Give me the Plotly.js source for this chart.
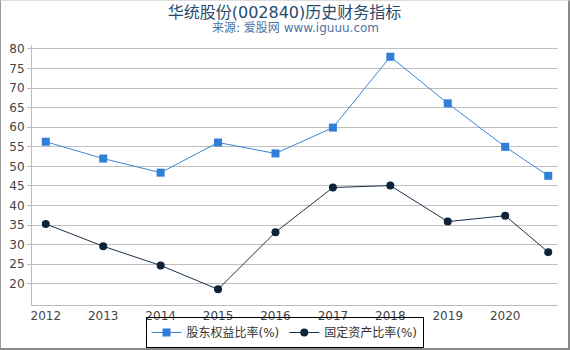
<!DOCTYPE html>
<html><head><meta charset="utf-8">
<script src="https://cdn.plot.ly/plotly-3.0.1.min.js"></script>
<style>
html,body{margin:0;padding:0;background:#fff;}
#chart{width:567px;height:347px;border-left:1px solid #999;border-top:1px solid #ddd;border-right:2px solid #888;border-bottom:2px solid #888;}
</style></head>
<body><div id="chart"></div>
<script>
const years = [2012, 2013, 2014, 2015, 2016, 2017, 2018, 2019, 2020, 2020.75];
const tickYears = [2012, 2013, 2014, 2015, 2016, 2017, 2018, 2019, 2020];
const equityRatio = [56.3, 52.0, 48.4, 56.1, 53.3, 59.9, 78.0, 66.1, 55.0, 47.6];
const fixedAssetRatio = [35.3, 29.6, 24.7, 18.6, 33.2, 44.6, 45.1, 35.9, 37.4, 28.1];
const seriesNames = ['股东权益比率(%)', '固定资产比率(%)'];
const titleText = '华统股份(002840)历史财务指标';
const subtitleText = '来源: 爱股网 www.iguuu.com';

const font = 'DejaVu Sans, "Noto Sans CJK SC", sans-serif';
const traces = [
  {x: years, y: equityRatio, name: seriesNames[0], type: 'scatter', mode: 'lines+markers',
   line: {color: '#3a85d8', width: 1}, marker: {symbol: 'square', size: 8, color: '#2f7ed8'}},
  {x: years, y: fixedAssetRatio, name: seriesNames[1], type: 'scatter', mode: 'lines+markers',
   line: {color: '#1c2f48', width: 1}, marker: {symbol: 'circle', size: 8, color: '#0d233a'}}
];
const layout = {
  width: 567, height: 347,
  margin: {l: 31, r: 10, t: 44, b: 43},
  paper_bgcolor: '#fff', plot_bgcolor: '#fff',
  font: {family: font, size: 12, color: '#444'},
  title: {text: titleText, x: 0.5, xanchor: 'center', xref: 'container',
          y: 0.968, yanchor: 'middle', yref: 'container',
          font: {family: font, size: 16, color: '#274b6d'}},
  annotations: [{text: subtitleText, xref: 'paper', yref: 'paper', x: 0.5, y: 1.066,
                 xanchor: 'center', yanchor: 'middle', showarrow: false,
                 font: {family: font, size: 12, color: '#4d73a6'}}],
  xaxis: {range: [2011.76, 2020.92], tickvals: tickYears, ticktext: tickYears.map(String),
          showgrid: false, zeroline: false, showline: true, linecolor: '#bbb', linewidth: 1,
          ticks: '', ticklabelstandoff: 0, tickfont: {size: 12, color: '#444'}},
  yaxis: {range: [14.6, 81], tickvals: [20,25,30,35,40,45,50,55,60,65,70,75,80],
          showgrid: true, gridcolor: '#c0c0c0', zeroline: false, showline: true, linecolor: '#bbb',
          ticks: 'outside', ticklen: 4, tickcolor: '#bbb', tickfont: {size: 12, color: '#444'}},
  showlegend: true,
  legend: {orientation: 'h', x: 0.5, xanchor: 'center', xref: 'container',
           y: -0.003, yanchor: 'bottom', yref: 'container', bgcolor: 'rgba(0,0,0,0)',
           bordercolor: '#000', borderwidth: 1, font: {size: 12, color: '#333'},
           itemwidth: 30, tracegroupgap: 0}
};
Plotly.newPlot('chart', traces, layout, {displayModeBar: false, staticPlot: true});
</script></body></html>
